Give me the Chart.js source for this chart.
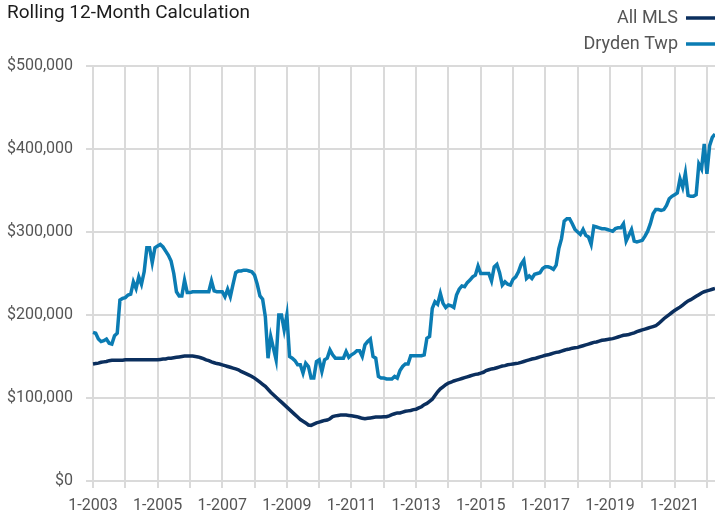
<!DOCTYPE html>
<html>
<head>
<meta charset="utf-8">
<script src="https://cdn.jsdelivr.net/npm/chart.js@4"></script>
<style>
  body { margin: 0; background: #fff; }
  #wrap { position: relative; width: 715px; height: 515px; }
</style>
</head>
<body>
<div id="wrap"><canvas id="rollingChart" width="715" height="515"></canvas></div>
<script>
// Série mensal a partir de 1-2003
const startYear = 2003;
const seriesNames = ['All MLS', 'Dryden Twp'];
const seriesColors = ['#0b2f5e', '#0b7cb3'];

const allMls = [141000,141500,142000,143000,143500,144000,145000,145500,145500,145500,
  145500,145500,146000,146000,146000,146000,146000,146000,146000,146000,
  146000,146000,146000,146000,146000,146500,147000,147000,148000,148000,
  148500,149000,149500,150000,150500,150500,150500,150500,150000,149500,
  148500,147500,146000,145000,143500,142500,141500,141000,140000,139000,
  138000,137000,136000,135000,134000,132000,130500,129000,127500,126000,
  124000,121500,119000,116500,114000,110500,107000,104000,101000,98000,
  95000,92000,89000,86000,83000,80000,77000,74000,72000,70000,
  67500,67000,68500,70000,71000,72000,73000,73500,75000,77500,
  78500,79000,79500,79500,79500,79000,78500,78000,77500,76500,
  75500,75000,75500,76000,76500,77000,77000,77000,77500,77500,
  78500,80000,81000,82000,82000,83000,84000,84500,85000,86000,
  86500,88000,89500,92000,93500,96000,98500,103000,107500,111000,
  113500,116000,118000,119000,120500,121500,122500,123500,124500,125500,
  126500,127500,128500,129000,130000,131000,133000,134000,135000,135500,
  136500,137500,138500,139000,140000,140500,141000,141500,142000,143000,
  144000,145000,146000,147000,147500,148500,149500,150500,151500,152000,
  153000,154000,155000,155500,156500,157500,158500,159000,160000,160500,
  161000,162000,163000,164000,165000,166000,167000,167500,168500,169500,
  170000,170500,171000,171500,172500,173500,174500,175500,176000,176500,
  177500,178500,180000,181000,182000,183000,184000,185000,186000,187000,
  189500,192500,195500,198000,200500,203000,205500,207500,209500,212000,
  214500,217000,218500,220500,222500,224500,226500,228000,229000,230000,
  231000,232000];

const dryden = [179000,178000,171000,168000,169000,171000,166000,165000,175000,178000,
  218000,220000,221000,224000,225000,240000,232000,246000,237000,252000,
  281000,281000,263000,281000,283000,285000,282000,277000,272000,265000,
  250000,228000,223000,223000,242000,227000,227000,228000,228000,228000,
  228000,228000,228000,228000,241000,229000,228000,228000,228000,222000,
  231000,222000,237000,251000,253000,253000,254000,254000,253000,252000,
  248000,237000,223000,219000,198000,148000,174000,160000,146000,200000,
  200000,182000,200000,150000,148000,145000,140000,140000,130000,142000,
  138000,124000,124000,144000,146000,132000,146000,148000,158000,152000,
  148000,148000,148000,148000,156000,149000,152000,154000,157000,157000,
  150000,164000,168000,171000,150000,148000,126000,124000,124000,123000,
  123000,123000,126000,124000,133000,138000,141000,141000,151000,151000,
  151000,151000,151000,152000,172000,174000,208000,216000,213000,226000,
  214000,209000,212000,211000,209000,224000,231000,235000,234000,239000,
  242000,246000,248000,259000,250000,250000,250000,250000,241000,258000,
  261000,251000,236000,240000,237000,236000,243000,246000,252000,261000,
  266000,244000,247000,244000,249000,250000,251000,256000,258000,258000,
  257000,255000,260000,280000,292000,313000,316000,316000,310000,303000,
  300000,297000,303000,296000,294000,285000,307000,306000,305000,304000,
  304000,303000,302000,301000,304000,305000,305000,310000,289000,296000,
  303000,289000,288000,289000,290000,295000,301000,310000,322000,327000,
  327000,326000,327000,332000,340000,343000,345000,347000,364000,354000,
  371000,344000,343000,343000,345000,382000,376000,406000,370000,404000,
  414000,418000];

const yTicks = [0, 100000, 200000, 300000, 400000, 500000];

// rótulos mês-ano (1-2003, 2-2003, ...)
const months = [];
for (let i = 0; i < allMls.length; i++) {
  months.push((i % 12 + 1) + '-' + (startYear + Math.floor(i / 12)));
}

const FONT = "Roboto, 'Liberation Sans', sans-serif";
const gridColor = '#dadada';

// título e legenda desenhados à mão
const headerPlugin = {
  id: 'header',
  afterDraw(chart) {
    const ctx = chart.ctx;
    ctx.save();
    ctx.fillStyle = '#1c1c1c';
    ctx.font = '19px ' + FONT;
    ctx.textAlign = 'left';
    ctx.textBaseline = 'middle';
    ctx.fillText('Rolling 12-Month Calculation', 7, 13);

    ctx.font = '18px ' + FONT;
    ctx.fillStyle = '#555555';
    ctx.textAlign = 'right';
    seriesNames.forEach(function(name, i) {
      const y = 18 + i * 26;
      ctx.fillText(name, 678, y);
      ctx.strokeStyle = seriesColors[i];
      ctx.lineWidth = 3.5;
      ctx.beginPath();
      ctx.moveTo(686, y);
      ctx.lineTo(715, y);
      ctx.stroke();
    });
    ctx.restore();
  }
};

const ctx = document.getElementById('rollingChart').getContext('2d');
new Chart(ctx, {
  type: 'line',
  data: {
    labels: months,
    datasets: [{
      label: seriesNames[1],
      data: dryden,
      borderColor: seriesColors[1],
      borderWidth: 3.5,
      pointRadius: 0,
      tension: 0
    }, {
      label: seriesNames[0],
      data: allMls,
      borderColor: seriesColors[0],
      borderWidth: 3.5,
      pointRadius: 0,
      tension: 0
    }]
  },
  plugins: [headerPlugin],
  options: {
    responsive: false,
    animation: false,
    layout: { padding: { top: 66, right: 0, left: 0, bottom: 0 } },
    plugins: {
      legend: { display: false },
      tooltip: { enabled: false }
    },
    scales: {
      x: {
        offset: false,
        afterFit: function(scale) {
          scale.height = 34;
        },
        grid: { color: gridColor, lineWidth: 2, tickLength: 7 },
        border: { color: gridColor, width: 2 },
        ticks: {
          autoSkip: false,
          maxRotation: 0,
          minRotation: 0,
          padding: 8,
          color: '#555555',
          font: { family: FONT, size: 16 },
          callback: function(value) {
            const label = this.getLabelForValue(value);
            if (label.indexOf('1-') !== 0) return null;
            const year = parseInt(label.split('-')[1], 10);
            return (year % 2 === 1) ? label : '';
          }
        }
      },
      y: {
        min: 0,
        max: 500000,
        afterBuildTicks: function(scale) {
          scale.ticks = yTicks.map(v => ({ value: v }));
        },
        afterFit: function(scale) {
          scale.width = 93;
        },
        grid: { color: gridColor, lineWidth: 2, tickLength: 7 },
        border: { display: false },
        ticks: {
          padding: 13,
          color: '#555555',
          font: { family: FONT, size: 16 },
          callback: function(value) {
            return '$' + value.toLocaleString('en-US');
          }
        }
      }
    }
  }
});
</script>
</body>
</html>
